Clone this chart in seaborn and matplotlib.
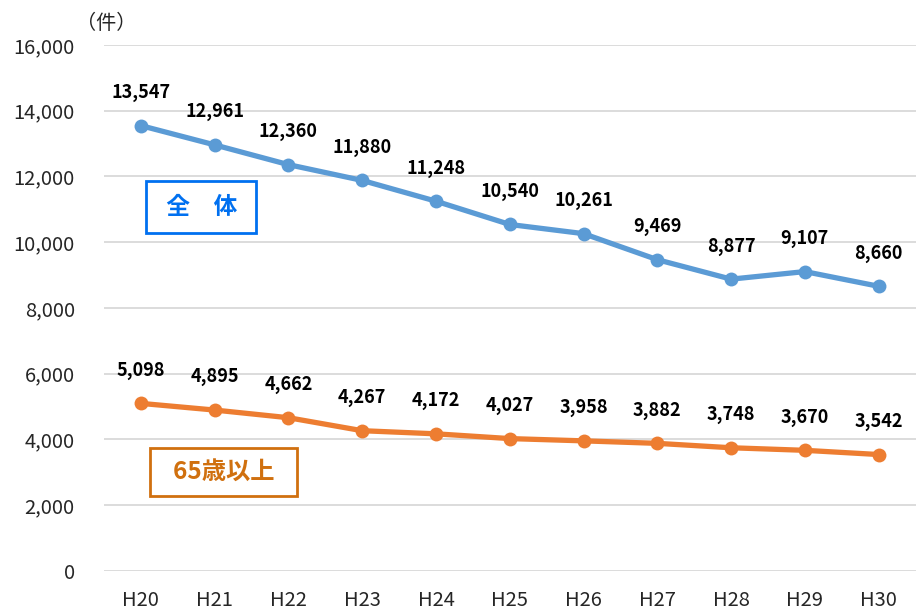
import matplotlib
matplotlib.use("Agg")
import matplotlib.pyplot as plt
import seaborn as sns
import pandas as pd

years = ["H20", "H21", "H22", "H23", "H24", "H25", "H26", "H27", "H28", "H29", "H30"]
total = [13547, 12961, 12360, 11880, 11248, 10540, 10261, 9469, 8877, 9107, 8660]
over65 = [5098, 4895, 4662, 4267, 4172, 4027, 3958, 3882, 3748, 3670, 3542]

sns.set_theme(style="white")
plt.rcParams['font.family'] = ['Noto Sans CJK JP', 'DejaVu Sans']

df = pd.DataFrame({"year": years, "total": total, "over65": over65})
df["x"] = range(len(years))

fig = plt.figure(figsize=(9.16, 6.11), dpi=100)
ax = fig.add_axes([0.1135, 0.0655, 0.886, 0.8609])

sns.lineplot(data=df, x="x", y="total", ax=ax, color="#5B9BD5", linewidth=3.8,
             marker="o", markersize=10, markeredgewidth=0)
sns.lineplot(data=df, x="x", y="over65", ax=ax, color="#ED7D31", linewidth=3.8,
             marker="o", markersize=10, markeredgewidth=0)

for i in range(len(years)):
    ax.annotate(f"{total[i]:,}", (i, total[i]), xytext=(0, 17), textcoords="offset points",
                ha="center", va="bottom", fontsize=13, fontweight="bold", color="black")
    ax.annotate(f"{over65[i]:,}", (i, over65[i]), xytext=(0, 17), textcoords="offset points",
                ha="center", va="bottom", fontsize=13, fontweight="bold", color="black")

ax.set_xlim(-0.5, len(years) - 0.5)
ax.set_ylim(0, 16000)
ax.set_yticks(range(0, 16001, 2000))
ax.set_yticklabels([f"{v:,}" for v in range(0, 16001, 2000)], fontsize=14.5)
ax.set_xticks(df["x"])
ax.set_xticklabels(years, fontsize=14.5)
ax.tick_params(axis="x", pad=14, length=0)
ax.tick_params(axis="y", pad=21, length=0)
ax.grid(axis="y", color="#D9D9D9", linewidth=1.3)
ax.set_axisbelow(True)
for s in ax.spines.values():
    s.set_visible(False)
ax.set_xlabel("")
ax.set_ylabel("")

fig.text(0.083, 0.962, "（件）", fontsize=14.5, ha="left", va="center")

ax.text(0.82, 11070, " 全　体 ", fontsize=17, fontweight="bold", color="#0070F0",
        ha="center", va="center",
        bbox=dict(boxstyle="square,pad=0.6", facecolor="white", edgecolor="#0070F0", linewidth=2))
ax.text(1.12, 3010, "  65歳以上  ", fontsize=17.5, fontweight="bold", color="#D0700F",
        ha="center", va="center",
        bbox=dict(boxstyle="square,pad=0.5", facecolor="white", edgecolor="#D0700F", linewidth=2))

fig.savefig("out.png", dpi=100)
